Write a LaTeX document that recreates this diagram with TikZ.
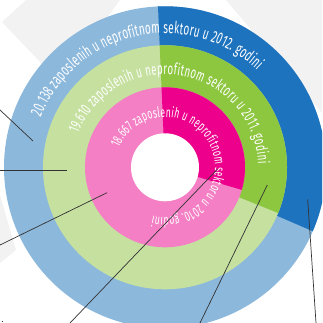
\documentclass[tikz,border=0pt]{standalone}
\usepackage{fontspec}
\usetikzlibrary{decorations.text}
\newfontfamily\ringfam[FakeStretch=0.6]{Fira Sans}
\newcommand\ringfontA{\fontsize{16.6pt}{18pt}\selectfont\ringfam}
\newcommand\ringfontB{\fontsize{16pt}{18pt}\selectfont\ringfam}
\newcommand\ringfontC{\fontsize{14.2pt}{16pt}\selectfont\ringfam}
\definecolor{lblue}{HTML}{8CB8DC}
\definecolor{dblue}{HTML}{1E73BE}
\definecolor{lgreen}{HTML}{C5E09F}
\definecolor{dgreen}{HTML}{8DC63F}
\definecolor{lpink}{HTML}{F47FC4}
\definecolor{dpink}{HTML}{EC008C}
\definecolor{bggray}{HTML}{F2F2F2}
\tikzset{
  leader/.style={draw=black!80, line width=0.7pt},
  ringtext/.style={decorate, decoration={text along path, text align={fit to path}, text color=white, text={#1}}}
}
\begin{document}
\begin{tikzpicture}[x=1pt,y=1pt]
\useasboundingbox (0,0) rectangle (322,323);
\clip (0,0) rectangle (322,323);
% background
\fill[bggray] (2,301) -- (26,323) -- (120,323) -- (60,240) -- cycle;
\fill[bggray] (226,323) -- (322,323) -- (322,210) -- cycle;
\fill[bggray] (0,128) -- (16,73) -- (0,60) -- cycle;
\coordinate (C) at (165,155.7);
% rings
\fill[lblue] (C) circle[radius=161pt];
\fill[dblue] (C) -- ([shift={(92.5:161pt)}]C) arc[start angle=92.5, end angle=-23.4, radius=161pt] -- cycle;
\fill[lgreen] (C) circle[radius=122pt];
\fill[dgreen] (C) -- ([shift={(92.5:122pt)}]C) arc[start angle=92.5, end angle=-22, radius=122pt] -- cycle;
\fill[lpink] (C) circle[radius=80pt];
\fill[dpink] (C) -- ([shift={(92.5:80pt)}]C) arc[start angle=92.5, end angle=-16.4, radius=80pt] -- cycle;
\fill[white] (C) circle[radius=34pt];
% ring texts
\path[ringtext={|\ringfontA|20.138 zaposlenih u neprofitnom sektoru u 2012. godini}]
  ([shift={(158:134pt)}]C) arc[start angle=158, end angle=46.5, radius=134pt];
\path[ringtext={|\ringfontB|19.610 zaposlenih u neprofitnom sektoru u 2011. godini}]
  ([shift={(159:93pt)}]C) arc[start angle=159, end angle=2, radius=93pt];
\path[ringtext={|\ringfontC|18.667 zaposlenih u neprofitnom sektoru u 2010. godini}]
  ([shift={(157:50pt)}]C) arc[start angle=157, end angle=-104, radius=50pt];
% leader lines
\coordinate (a1) at (0,213);   \coordinate (b1) at (33,182);
\coordinate (a2) at (0,153);   \coordinate (b2) at (67,153);
\coordinate (a3) at (0,78);    \coordinate (b3) at (107,130.3);
\coordinate (a4) at (70,0);    \coordinate (b4) at (217.3,153.7);
\coordinate (a5) at (200,0);   \coordinate (b5) at (267.3,138);
\coordinate (a6) at (316,0);   \coordinate (b6) at (307.7,123.7);
\draw[leader] (a1) -- (b1);
\draw[leader] (a2) -- (b2);
\draw[leader] (a3) -- (b3);
\draw[leader] (a4) -- (b4);
\draw[leader] (a5) -- (b5);
\draw[leader] (a6) -- (b6);
\fill[black!85] (1.5,0.5) rectangle (3,2.2);
\end{tikzpicture}
\end{document}
